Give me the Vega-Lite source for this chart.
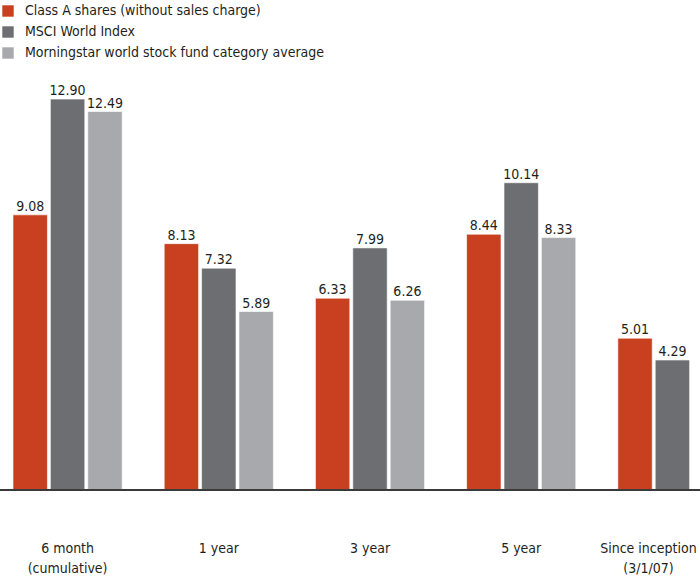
{
  "$schema": "https://vega.github.io/schema/vega-lite/v6.json",
  "autosize": "none",
  "width": 700,
  "height": 490,
  "padding": {"top": 0, "left": 0, "right": 0, "bottom": 88},
  "background": "white",
  "config": {
    "view": {"stroke": null},
    "font": "'DejaVu Sans Condensed', 'Liberation Sans', sans-serif"
  },
  "data": {
    "values": [
      {"period": "6 month|(cumulative)", "series": "Class A shares (without sales charge)", "value": 9.08},
      {"period": "6 month|(cumulative)", "series": "MSCI World Index", "value": 12.90},
      {"period": "6 month|(cumulative)", "series": "Morningstar world stock fund category average", "value": 12.49},
      {"period": "1 year", "series": "Class A shares (without sales charge)", "value": 8.13},
      {"period": "1 year", "series": "MSCI World Index", "value": 7.32},
      {"period": "1 year", "series": "Morningstar world stock fund category average", "value": 5.89},
      {"period": "3 year", "series": "Class A shares (without sales charge)", "value": 6.33},
      {"period": "3 year", "series": "MSCI World Index", "value": 7.99},
      {"period": "3 year", "series": "Morningstar world stock fund category average", "value": 6.26},
      {"period": "5 year", "series": "Class A shares (without sales charge)", "value": 8.44},
      {"period": "5 year", "series": "MSCI World Index", "value": 10.14},
      {"period": "5 year", "series": "Morningstar world stock fund category average", "value": 8.33},
      {"period": "Since inception|(3/1/07)", "series": "Class A shares (without sales charge)", "value": 5.01},
      {"period": "Since inception|(3/1/07)", "series": "MSCI World Index", "value": 4.29}
    ]
  },
  "encoding": {
    "x": {
      "field": "period",
      "type": "nominal",
      "sort": null,
      "scale": {"range": [13, 727], "paddingInner": 0.278, "paddingOuter": 0},
      "axis": {
        "title": null,
        "domain": false,
        "ticks": false,
        "labelAngle": 0,
        "labelPadding": 51,
        "labelFontSize": 14,
        "labelColor": "#231f20",
        "labelLineHeight": 20,
        "labelBaseline": "top",
        "labelBound": false,
        "labelOverlap": false,
        "labelExpr": "split(datum.label, '|')",
        "labelOffset": {"condition": {"test": "datum.value === 'Since inception|(3/1/07)'", "value": -24}, "value": 0}
      }
    },
    "xOffset": {
      "field": "series",
      "type": "nominal",
      "sort": ["Class A shares (without sales charge)", "MSCI World Index", "Morningstar world stock fund category average"],
      "scale": {"paddingInner": 0.08, "paddingOuter": 0}
    },
    "y": {
      "field": "value",
      "type": "quantitative",
      "scale": {"domain": [0, 16.17], "nice": false},
      "axis": null
    }
  },
  "layer": [
    {
      "mark": {"type": "bar", "stroke": "white", "strokeWidth": 0.6},
      "encoding": {
        "color": {
          "field": "series",
          "type": "nominal",
          "sort": ["Class A shares (without sales charge)", "MSCI World Index", "Morningstar world stock fund category average"],
          "scale": {
            "domain": ["Class A shares (without sales charge)", "MSCI World Index", "Morningstar world stock fund category average"],
            "range": ["#c8401f", "#6d6e71", "#a7a9ac"]
          },
          "legend": {
            "title": null,
            "orient": "none",
            "legendX": 1,
            "legendY": 4,
            "symbolType": "square",
            "symbolSize": 130,
            "symbolStrokeWidth": 0,
            "labelFontSize": 14,
            "labelColor": "#231f20",
            "labelOffset": 10,
            "rowPadding": 7,
            "labelLimit": 500
          }
        }
      }
    },
    {
      "mark": {"type": "text", "baseline": "alphabetic", "dy": -4, "fontSize": 14, "color": "#231f20"},
      "encoding": {
        "text": {"field": "value", "type": "quantitative", "format": ".2f"}
      }
    },
    {
      "mark": {"type": "rule", "color": "#3a3a3a", "strokeWidth": 1},
      "encoding": {"y": {"datum": 0}, "x": null, "xOffset": null}
    }
  ]
}
